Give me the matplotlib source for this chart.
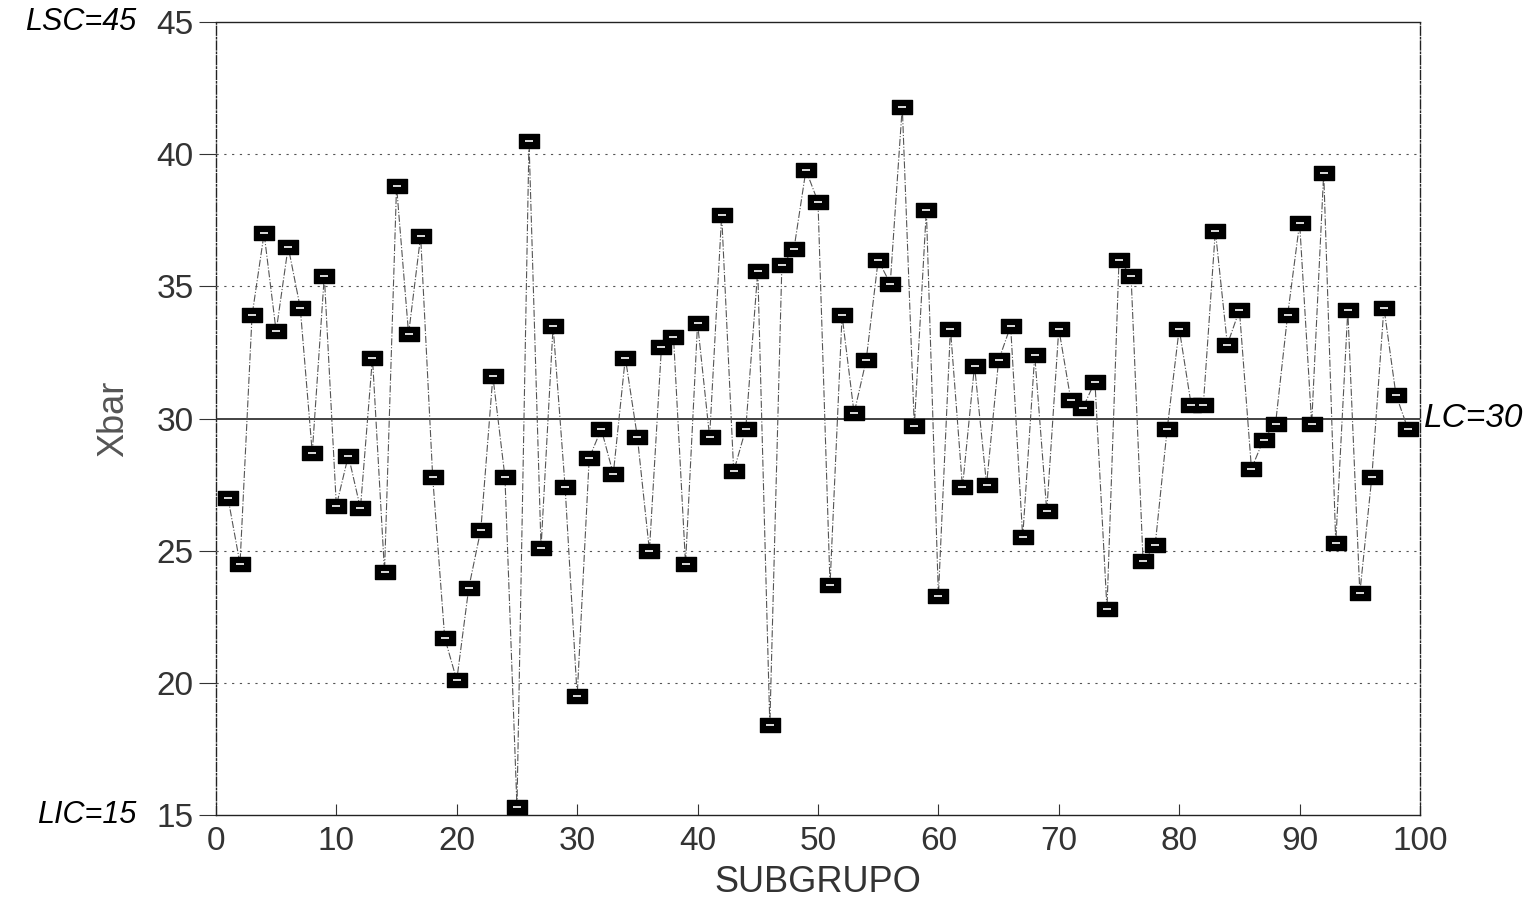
import numpy as np
import matplotlib
matplotlib.use('Agg')
import matplotlib.pyplot as plt
from matplotlib.path import Path

subgrupo = np.arange(1, 100)
xbar = [27.0, 24.5, 33.9, 37.0, 33.3, 36.5, 34.2, 28.7, 35.4, 26.7,
        28.6, 26.6, 32.3, 24.2, 38.8, 33.2, 36.9, 27.8, 21.7, 20.1,
        23.6, 25.8, 31.6, 27.8, 15.3, 40.5, 25.1, 33.5, 27.4, 19.5,
        28.5, 29.6, 27.9, 32.3, 29.3, 25.0, 32.7, 33.1, 24.5, 33.6,
        29.3, 37.7, 28.0, 29.6, 35.6, 18.4, 35.8, 36.4, 39.4, 38.2,
        23.7, 33.9, 30.2, 32.2, 36.0, 35.1, 41.8, 29.7, 37.9, 23.3,
        33.4, 27.4, 32.0, 27.5, 32.2, 33.5, 25.5, 32.4, 26.5, 33.4,
        30.7, 30.4, 31.4, 22.8, 36.0, 35.4, 24.6, 25.2, 29.6, 33.4,
        30.5, 30.5, 37.1, 32.8, 34.1, 28.1, 29.2, 29.8, 33.9, 37.4,
        29.8, 39.3, 25.3, 34.1, 23.4, 27.8, 34.2, 30.9, 29.6]

lsc, lc, lic = 45, 30, 15

plt.rcParams['font.family'] = ['Liberation Sans', 'DejaVu Sans']

fig = plt.figure(figsize=(15.38, 9.19), dpi=100)
ax = fig.add_axes([0.1404, 0.1132, 0.7829, 0.8628])

# rectangular marker, wider than tall
rect = Path([(-1.4, -1), (1.4, -1), (1.4, 1), (-1.4, 1), (-1.4, -1)],
            [Path.MOVETO, Path.LINETO, Path.LINETO, Path.LINETO, Path.CLOSEPOLY])

ax.plot(subgrupo, xbar, color='#555555', lw=0.8, ls='-.', zorder=2)
ax.plot(subgrupo, xbar, ls='none', marker=rect, ms=14, color='black', zorder=3)
ax.plot(subgrupo, xbar, ls='none', marker='_', ms=6, mew=1.2, color='white', zorder=4)

for yv in [20, 25, 35, 40]:
    ax.axhline(yv, color='#555555', lw=0.8, ls=(0, (2, 5)), zorder=1)
ax.axhline(lc, color='#222222', lw=1.2, zorder=1)

ax.set_xlim(0, 100)
ax.set_ylim(15, 45)
ax.set_xticks(range(0, 101, 10))
ax.set_yticks(range(15, 46, 5))
ax.tick_params(labelsize=24, colors='#333333')
ax.tick_params(axis='y', direction='out', length=12, pad=4)
ax.tick_params(axis='x', direction='in', length=8, pad=8)

ax.spines['left'].set_linestyle('-.')
ax.spines['right'].set_linestyle('-.')
for s in ax.spines.values():
    s.set_linewidth(1.0)
    s.set_color('#222222')

ax.set_xlabel('SUBGRUPO', fontsize=26, color='#333333', labelpad=6)
ax.set_ylabel('Xbar', fontsize=26, color='#555555', labelpad=18)

# handwritten annotations
ax.text(-6.6, lsc, 'LSC=45', fontsize=22, ha='right', va='center',
        style='italic', clip_on=False)
ax.text(-6.6, lic, 'LIC=15', fontsize=22, ha='right', va='center',
        style='italic', clip_on=False)
ax.text(100.3, lc, 'LC=30', fontsize=24, ha='left', va='center',
        style='italic', clip_on=False)

fig.savefig('out.png', dpi=100)
